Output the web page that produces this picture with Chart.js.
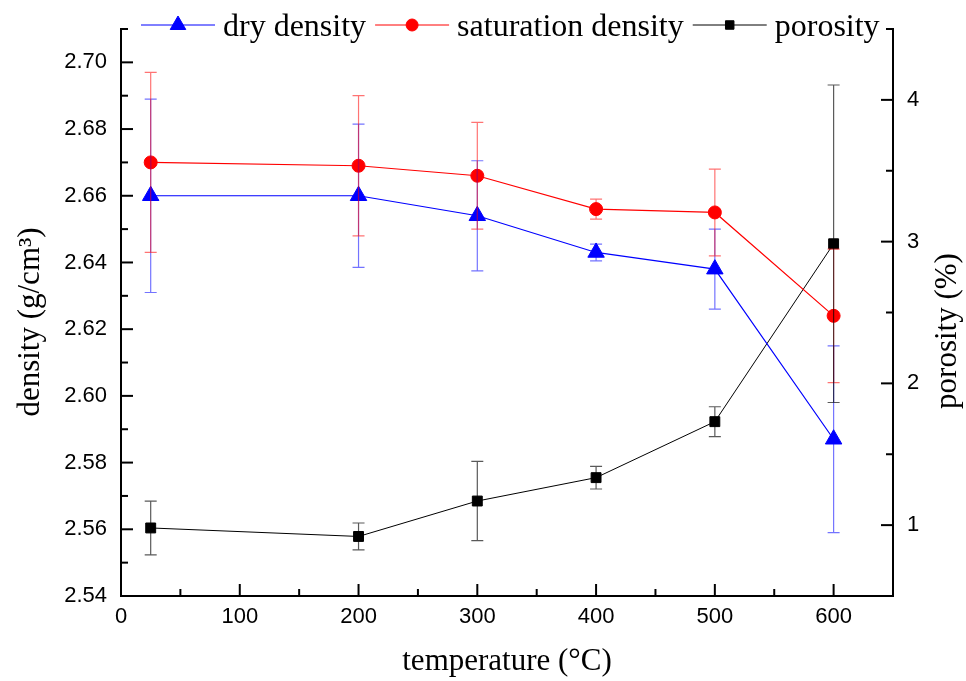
<!DOCTYPE html>
<html>
<head>
<meta charset="utf-8">
<script src="https://cdn.jsdelivr.net/npm/chart.js@4.4.1/dist/chart.umd.min.js"></script>
<style>
  html, body { margin: 0; padding: 0; background: #fff; }
</style>
</head>
<body>
<canvas id="chart" width="966" height="681"></canvas>
<script>
// data
const temperatures = [25, 200, 300, 400, 500, 600];
const dryDensity = [2.660, 2.660, 2.654, 2.643, 2.638, 2.587];
const dryDensityErr = [0.029, 0.0215, 0.0165, 0.0025, 0.012, 0.028];
const satDensity = [2.670, 2.669, 2.666, 2.656, 2.655, 2.624];
const satDensityErr = [0.027, 0.021, 0.016, 0.003, 0.013, 0.020];
const porosity = [0.98, 0.92, 1.17, 1.335, 1.73, 2.985];
const porosityErr = [0.19, 0.095, 0.28, 0.08, 0.105, 1.12];

const temperatureTicks = [0, 100, 200, 300, 400, 500, 600];
const densityTicks = [2.54, 2.56, 2.58, 2.60, 2.62, 2.64, 2.66, 2.68, 2.70];
const porosityTicks = [1, 2, 3, 4];

const serif = '"Liberation Serif", "Times New Roman", serif';
const sans = '"Liberation Sans", Arial, sans-serif';

function points(xs, ys) {
  return xs.map((x, i) => ({ x: x, y: ys[i] }));
}

function setTicks(values) {
  return function (scale) {
    scale.ticks = values.map(v => ({ value: v }));
  };
}

// inward major/minor ticks, like the original plot
function drawAxisTicks(chart, scale, majors, step) {
  const ctx = chart.ctx;
  const area = chart.chartArea;
  const minors = [];
  for (let v = majors[0] - step / 2; v <= scale.max + 1e-9; v += step) {
    if (v >= scale.min - 1e-9) minors.push(v);
  }
  ctx.save();
  ctx.strokeStyle = '#000';
  ctx.lineWidth = 2;
  const mark = (v, len) => {
    const p = scale.getPixelForValue(v);
    ctx.beginPath();
    if (scale.axis === 'x') {
      ctx.moveTo(p, area.bottom);
      ctx.lineTo(p, area.bottom - len);
    } else if (scale.position === 'left') {
      ctx.moveTo(area.left, p);
      ctx.lineTo(area.left + len, p);
    } else {
      ctx.moveTo(area.right, p);
      ctx.lineTo(area.right - len, p);
    }
    ctx.stroke();
  };
  majors.forEach(v => mark(v, 12));
  minors.forEach(v => mark(v, 7));
  ctx.restore();
}

const decorPlugin = {
  id: 'decor',
  afterDatasetsDraw(chart) {
    const ctx = chart.ctx;
    // error bars
    chart.data.datasets.forEach((ds, i) => {
      const meta = chart.getDatasetMeta(i);
      const ys = chart.scales[ds.yAxisID];
      ctx.save();
      ctx.strokeStyle = ds.errorColor;
      ctx.lineWidth = 1.2;
      meta.data.forEach((pt, j) => {
        const v = ds.data[j].y;
        const e = ds.errors[j];
        const top = ys.getPixelForValue(v + e);
        const bot = ys.getPixelForValue(v - e);
        ctx.beginPath();
        ctx.moveTo(pt.x, top); ctx.lineTo(pt.x, bot);
        ctx.moveTo(pt.x - 6, top); ctx.lineTo(pt.x + 6, top);
        ctx.moveTo(pt.x - 6, bot); ctx.lineTo(pt.x + 6, bot);
        ctx.stroke();
      });
      ctx.restore();
    });
  },
  afterDraw(chart) {
    const ctx = chart.ctx;
    drawAxisTicks(chart, chart.scales.x, temperatureTicks, 100);
    drawAxisTicks(chart, chart.scales.yDensity, densityTicks, 0.02);
    drawAxisTicks(chart, chart.scales.yPorosity, porosityTicks, 1);

    // legend across the top
    ctx.save();
    ctx.font = '32px ' + serif;
    ctx.textBaseline = 'alphabetic';
    let x = 141;
    chart.data.datasets.forEach(ds => {
      ctx.strokeStyle = ds.borderColor;
      ctx.fillStyle = ds.backgroundColor;
      ctx.lineWidth = 1;
      ctx.beginPath();
      ctx.moveTo(x, 25); ctx.lineTo(x + 74, 25);
      ctx.stroke();
      Chart.helpers.drawPoint(ctx, { pointStyle: ds.pointStyle, radius: ds.legendRadius, borderWidth: 1, rotation: 0 }, x + 37, 25);
      ctx.fillStyle = '#000';
      ctx.fillText(ds.label, x + 82, 36);
      x += 82 + ctx.measureText(ds.label).width + 9;
    });

    // axis titles
    ctx.font = '31px ' + serif;
    ctx.textAlign = 'center';
    ctx.fillText('temperature (°C)', 507, 670);
    ctx.save();
    ctx.translate(39, 322);
    ctx.rotate(-Math.PI / 2);
    ctx.fillText('density (g/cm³)', 0, 0);
    ctx.restore();
    ctx.save();
    ctx.translate(956, 331);
    ctx.rotate(-Math.PI / 2);
    ctx.fillText('porosity (%)', 0, 0);
    ctx.restore();
    ctx.restore();
  }
};

new Chart(document.getElementById('chart'), {
  type: 'line',
  data: {
    datasets: [
      {
        label: 'dry density',
        data: points(temperatures, dryDensity),
        errors: dryDensityErr,
        yAxisID: 'yDensity',
        borderColor: '#0000ff',
        backgroundColor: '#0000ff',
        errorColor: 'rgba(0,0,255,0.55)',
        borderWidth: 1.2,
        pointStyle: 'triangle',
        pointRadius: 9.5,
        legendRadius: 9,
        pointBorderWidth: 1
      },
      {
        label: 'saturation density',
        data: points(temperatures, satDensity),
        errors: satDensityErr,
        yAxisID: 'yDensity',
        borderColor: '#ff0000',
        backgroundColor: '#ff0000',
        errorColor: 'rgba(255,0,0,0.55)',
        borderWidth: 1.2,
        pointStyle: 'circle',
        pointRadius: 6.5,
        legendRadius: 6,
        pointBorderWidth: 1
      },
      {
        label: 'porosity',
        data: points(temperatures, porosity),
        errors: porosityErr,
        yAxisID: 'yPorosity',
        borderColor: '#000000',
        backgroundColor: '#000000',
        errorColor: 'rgba(0,0,0,0.65)',
        borderWidth: 1,
        pointStyle: 'rect',
        pointRadius: 7,
        legendRadius: 6,
        pointBorderWidth: 1
      }
    ]
  },
  options: {
    responsive: false,
    animation: false,
    devicePixelRatio: 1,
    layout: { padding: { top: 29, left: 0, right: 0, bottom: 0 } },
    plugins: {
      legend: { display: false },
      tooltip: { enabled: false }
    },
    elements: { line: { tension: 0 } },
    scales: {
      x: {
        type: 'linear',
        min: 0,
        max: 650,
        afterBuildTicks: setTicks(temperatureTicks),
        afterFit: s => { s.height = 85; },
        grid: { display: false, drawTicks: false, tickLength: 0 },
        border: { display: true, color: '#000', width: 2 },
        ticks: { color: '#000', padding: 8, font: { family: sans, size: 22 } }
      },
      yDensity: {
        type: 'linear',
        position: 'left',
        min: 2.54,
        max: 2.71,
        afterBuildTicks: setTicks(densityTicks),
        afterFit: s => { s.width = 121; },
        grid: { display: false, drawTicks: false, tickLength: 0 },
        border: { display: true, color: '#000', width: 2 },
        ticks: { color: '#000', padding: 14, font: { family: sans, size: 22 }, callback: v => v.toFixed(2) }
      },
      yPorosity: {
        type: 'linear',
        position: 'right',
        min: 0.5,
        max: 4.5,
        afterBuildTicks: setTicks(porosityTicks),
        afterFit: s => { s.width = 73; },
        grid: { display: false, drawTicks: false, tickLength: 0 },
        border: { display: true, color: '#000', width: 2 },
        ticks: { color: '#000', padding: 14, font: { family: sans, size: 22 } }
      }
    }
  },
  plugins: [decorPlugin]
});
</script>
</body>
</html>
